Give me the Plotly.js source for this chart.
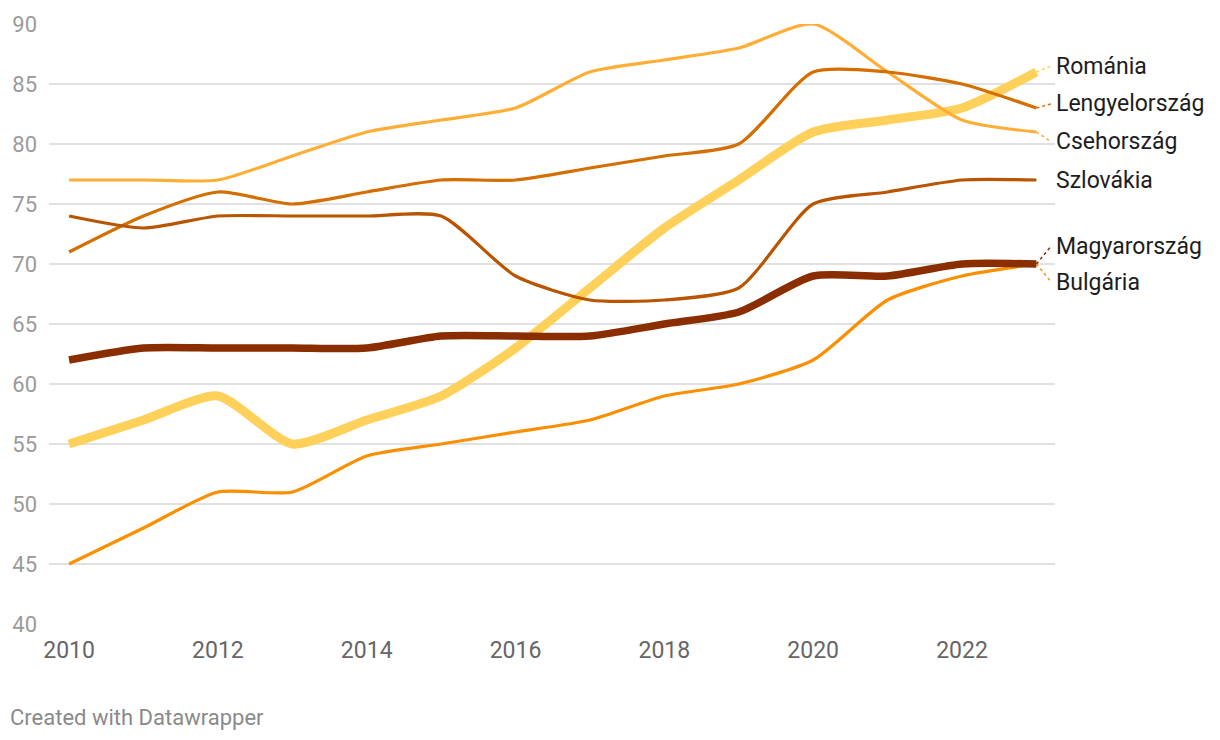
<!DOCTYPE html>
<html>
<head>
<meta charset="utf-8">
<script src="https://cdn.plot.ly/plotly-3.0.1.min.js"></script>
<style>
  html, body { margin: 0; padding: 0; background: #fff; }
  #chart { width: 1220px; height: 740px; }
</style>
</head>
<body>
<div id="chart"></div>
<script>
const years = [2010, 2011, 2012, 2013, 2014, 2015, 2016, 2017, 2018, 2019, 2020, 2021, 2022, 2023];

const romania      = [55, 57, 59, 55, 57, 59, 63, 68, 73, 77, 81, 82, 83, 86];
const lengyel      = [71, 74, 76, 75, 76, 77, 77, 78, 79, 80, 86, 86, 85, 83];
const cseh         = [77, 77, 77, 79, 81, 82, 83, 86, 87, 88, 90, 86, 82, 81];
const szlovakia    = [74, 73, 74, 74, 74, 74, 69, 67, 67, 68, 75, 76, 77, 77];
const magyar       = [62, 63, 63, 63, 63, 64, 64, 64, 65, 66, 69, 69, 70, 70];
const bulgaria     = [45, 48, 51, 51, 54, 55, 56, 57, 59, 60, 62, 67, 69, 70];

const seriesNames = ["Románia", "Lengyelország", "Csehország", "Szlovákia", "Magyarország", "Bulgária"];
const xTickVals = [2010, 2012, 2014, 2016, 2018, 2020, 2022];
const yTickVals = [40, 45, 50, 55, 60, 65, 70, 75, 80, 85, 90];

const series = [
  { name: seriesNames[0], y: romania,   color: "#ffd05a", width: 9,   labelY: 86.5 },
  { name: seriesNames[2], y: cseh,      color: "#ffae35", width: 3.2, labelY: 80.2 },
  { name: seriesNames[1], y: lengyel,   color: "#d46e00", width: 3.2, labelY: 83.35 },
  { name: seriesNames[3], y: szlovakia, color: "#b95400", width: 3.2, labelY: 77.0 },
  { name: seriesNames[5], y: bulgaria,  color: "#fb8f00", width: 3.2, labelY: 68.5 },
  { name: seriesNames[4], y: magyar,    color: "#8a2e00", width: 7.5, labelY: 71.5 }
];

const traces = series.map(s => ({
  type: "scatter",
  mode: "lines",
  x: years,
  y: s.y,
  name: s.name,
  line: { color: s.color, width: s.width, shape: "spline", smoothing: 0.65 },
  cliponaxis: false,
  hoverinfo: "x+y+name"
}));

const lastX = years[years.length - 1];
const annotations = series.map(s => ({
  x: 1, xref: "paper", xanchor: "left", xshift: -1,
  y: s.labelY, yref: "y", yanchor: "middle",
  text: s.name, showarrow: false,
  font: { family: "Roboto, sans-serif", size: 23, color: "#1d1d1d" }
}));
annotations.push({
  x: 0, xref: "paper", xanchor: "left", xshift: -41,
  y: 0, yref: "paper", yanchor: "middle", yshift: -93,
  text: "Created with Datawrapper", showarrow: false,
  font: { family: "Roboto, sans-serif", size: 22, color: "#8a8a8a" }
});

const shapes = series.filter(s => s.name !== "Szlovákia").map(s => ({
  type: "line", xref: "x", yref: "y",
  x0: lastX, y0: s.y[s.y.length - 1],
  x1: lastX + 0.2, y1: s.labelY,
  line: { color: s.color, width: 1.5, dash: "dot" },
  layer: "above"
}));

const layout = {
  width: 1220, height: 740,
  margin: { l: 49, r: 165, t: 24, b: 116 },
  paper_bgcolor: "#fff", plot_bgcolor: "#fff",
  showlegend: false,
  font: { family: "Roboto, sans-serif" },
  xaxis: {
    range: [2009.73, 2023.25],
    tickmode: "array", tickvals: xTickVals, ticktext: xTickVals.map(String),
    showgrid: false, zeroline: false, showline: false, ticks: "",
    tickfont: { family: "Roboto, sans-serif", size: 23, color: "#666" },
    ticklabelstandoff: 10
  },
  yaxis: {
    range: [40, 90],
    tickmode: "array", tickvals: yTickVals, ticktext: yTickVals.map(String),
    showgrid: true, gridcolor: "#e1e1e1", gridwidth: 1.3,
    zeroline: false, showline: false, ticks: "",
    tickfont: { family: "Roboto, sans-serif", size: 22, color: "#9a9a9a" },
    ticklabelstandoff: 11
  },
  annotations: annotations,
  shapes: shapes
};

Plotly.newPlot("chart", traces, layout, { displayModeBar: false, staticPlot: true });
</script>
</body>
</html>
